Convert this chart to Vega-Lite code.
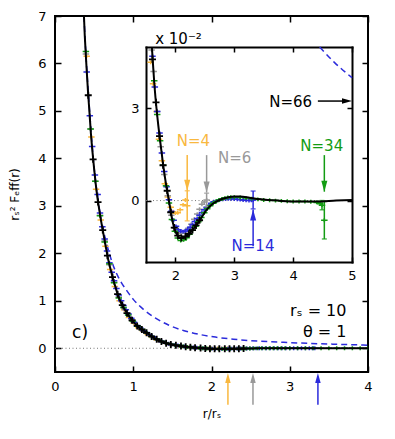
{
"$schema": "https://vega.github.io/schema/vega-lite/v6.json",
"width": 313, "height": 356,
"autosize": "none",
"padding": {"left": 55, "top": 16, "right": 27, "bottom": 67},
"config": {"font": "DejaVu Sans", "view": {"stroke": "black", "strokeWidth": 2},
  "axis": {"grid": false, "labelFont": "DejaVu Sans", "labelFontSize": 13, "labelColor": "black", "tickColor": "black", "tickWidth": 1.5, "labelFlush": false, "titleFont": "DejaVu Sans", "titleColor": "black", "titleFontWeight": "normal", "domain": false}},
"datasets": {
"curve": [
{"r":0.37,"y":7.0},{"r":0.38,"y":6.6},{"r":0.39,"y":6.3},{"r":0.40,"y":6.0},{"r":0.42,"y":5.45},{"r":0.44,"y":4.98},{"r":0.46,"y":4.5},{"r":0.48,"y":4.12},{"r":0.50,"y":3.78},{"r":0.52,"y":3.47},{"r":0.54,"y":3.2},{"r":0.56,"y":2.98},{"r":0.58,"y":2.77},{"r":0.60,"y":2.58},{"r":0.62,"y":2.40},{"r":0.64,"y":2.22},{"r":0.66,"y":2.04},{"r":0.68,"y":1.87},{"r":0.70,"y":1.73},{"r":0.72,"y":1.60},{"r":0.74,"y":1.47},{"r":0.76,"y":1.36},{"r":0.78,"y":1.25},{"r":0.80,"y":1.14},{"r":0.82,"y":1.05},{"r":0.84,"y":0.97},{"r":0.86,"y":0.91},{"r":0.88,"y":0.85},{"r":0.90,"y":0.79},{"r":0.95,"y":0.67},{"r":1.00,"y":0.56},{"r":1.05,"y":0.47},{"r":1.10,"y":0.405},{"r":1.15,"y":0.35},{"r":1.20,"y":0.29},{"r":1.25,"y":0.235},{"r":1.30,"y":0.19},{"r":1.35,"y":0.15},{"r":1.40,"y":0.118},{"r":1.45,"y":0.092},{"r":1.50,"y":0.074},{"r":1.55,"y":0.061},{"r":1.60,"y":0.050},{"r":1.65,"y":0.036},{"r":1.70,"y":0.026},{"r":1.75,"y":0.018},{"r":1.80,"y":0.0105},{"r":1.85,"y":0.0042},{"r":1.88,"y":0.0010},{"r":1.92,"y":-0.0035},{"r":1.96,"y":-0.0075},{"r":2.00,"y":-0.0100},{"r":2.04,"y":-0.0115},{"r":2.08,"y":-0.0122},{"r":2.12,"y":-0.0121},{"r":2.16,"y":-0.0118},{"r":2.22,"y":-0.0110},{"r":2.28,"y":-0.0098},{"r":2.36,"y":-0.0079},{"r":2.44,"y":-0.0056},{"r":2.53,"y":-0.0030},{"r":2.62,"y":-0.0013},{"r":2.70,"y":-0.0003},{"r":2.80,"y":0.0006},{"r":2.90,"y":0.0011},{"r":3.00,"y":0.0013},{"r":3.10,"y":0.0013},{"r":3.26,"y":0.0009},{"r":3.40,"y":0.0005},{"r":3.60,"y":0.0002},{"r":3.80,"y":-0.0001},{"r":4.05,"y":-0.0003},{"r":4.39,"y":-0.0003},{"r":4.73,"y":0.0},{"r":5.00,"y":0.0002}
],
"dashed": [
{"r":0.37,"y":7.0},{"r":0.40,"y":6.05},{"r":0.44,"y":5.05},{"r":0.485,"y":4.07},{"r":0.55,"y":3.12},{"r":0.60,"y":2.63},{"r":0.64,"y":2.33},{"r":0.68,"y":2.08},{"r":0.745,"y":1.74},{"r":0.80,"y":1.53},{"r":0.85,"y":1.38},{"r":0.915,"y":1.22},{"r":1.00,"y":1.03},{"r":1.13,"y":0.82},{"r":1.28,"y":0.64},{"r":1.45,"y":0.49},{"r":1.65,"y":0.37},{"r":1.85,"y":0.29},{"r":2.05,"y":0.235},{"r":2.28,"y":0.19},{"r":2.6,"y":0.15},{"r":2.92,"y":0.125},{"r":3.25,"y":0.103},{"r":3.55,"y":0.087},{"r":3.94,"y":0.068},{"r":4.20,"y":0.058},{"r":4.45,"y":0.050},{"r":4.70,"y":0.045},{"r":5.00,"y":0.040}
],
"pts": [
{"N":"N=4","r":0.405,"y":6.15},{"N":"N=4","r":0.465,"y":4.45},{"N":"N=4","r":0.525,"y":3.35},{"N":"N=4","r":0.585,"y":2.70},{"N":"N=4","r":0.645,"y":2.15},{"N":"N=4","r":0.705,"y":1.66},{"N":"N=4","r":0.765,"y":1.30},{"N":"N=4","r":0.825,"y":1.00},{"N":"N=4","r":0.885,"y":0.81},{"N":"N=4","r":0.945,"y":0.65},{"N":"N=4","r":1.005,"y":0.53},{"N":"N=4","r":1.065,"y":0.43},{"N":"N=4","r":1.125,"y":0.36},{"N":"N=4","r":1.185,"y":0.29},{"N":"N=4","r":1.245,"y":0.225},{"N":"N=4","r":1.305,"y":0.175},{"N":"N=4","r":1.365,"y":0.135},{"N":"N=4","r":1.425,"y":0.098},{"N":"N=4","r":1.485,"y":0.074},{"N":"N=4","r":1.545,"y":0.056},{"N":"N=4","r":1.58,"y":0.045},{"N":"N=4","r":1.62,"y":0.038},{"N":"N=4","r":1.68,"y":0.029},{"N":"N=4","r":1.72,"y":0.020},{"N":"N=4","r":1.77,"y":0.013},{"N":"N=4","r":1.82,"y":0.0055},{"N":"N=4","r":1.87,"y":0.0012},{"N":"N=4","r":1.92,"y":-0.0022},{"N":"N=4","r":1.96,"y":-0.0036},{"N":"N=4","r":2.00,"y":-0.0041},{"N":"N=4","r":2.04,"y":-0.0040},{"N":"N=4","r":2.08,"y":-0.0030},{"N":"N=4","r":2.13,"y":-0.0014},{"N":"N=4","r":2.17,"y":0.0002},{"N":"N=4","r":2.20,"y":-0.0017,"err":0.0049},
{"N":"N=6","r":0.395,"y":6.2},{"N":"N=6","r":0.455,"y":4.62},{"N":"N=6","r":0.515,"y":3.52},{"N":"N=6","r":0.575,"y":2.80},{"N":"N=6","r":0.635,"y":2.26},{"N":"N=6","r":0.695,"y":1.76},{"N":"N=6","r":0.755,"y":1.39},{"N":"N=6","r":0.815,"y":1.08},{"N":"N=6","r":0.875,"y":0.86},{"N":"N=6","r":0.935,"y":0.70},{"N":"N=6","r":0.995,"y":0.57},{"N":"N=6","r":1.055,"y":0.465},{"N":"N=6","r":1.115,"y":0.385},{"N":"N=6","r":1.175,"y":0.32},{"N":"N=6","r":1.235,"y":0.25},{"N":"N=6","r":1.295,"y":0.195},{"N":"N=6","r":1.355,"y":0.152},{"N":"N=6","r":1.415,"y":0.11},{"N":"N=6","r":1.475,"y":0.083},{"N":"N=6","r":1.535,"y":0.064},{"N":"N=6","r":1.595,"y":0.049},{"N":"N=6","r":1.63,"y":0.042},{"N":"N=6","r":1.69,"y":0.029},{"N":"N=6","r":1.75,"y":0.0175},{"N":"N=6","r":1.81,"y":0.0085},{"N":"N=6","r":1.87,"y":0.0016},{"N":"N=6","r":1.93,"y":-0.0048},{"N":"N=6","r":1.99,"y":-0.0090},{"N":"N=6","r":2.05,"y":-0.0104},{"N":"N=6","r":2.10,"y":-0.0106},{"N":"N=6","r":2.16,"y":-0.0101},{"N":"N=6","r":2.22,"y":-0.0090},{"N":"N=6","r":2.27,"y":-0.0077},{"N":"N=6","r":2.32,"y":-0.0061},{"N":"N=6","r":2.37,"y":-0.0044},{"N":"N=6","r":2.41,"y":-0.0028},{"N":"N=6","r":2.45,"y":-0.0012},{"N":"N=6","r":2.49,"y":-0.0005},{"N":"N=6","r":2.53,"y":0.0002,"err":0.0022},
{"N":"N=14","r":0.405,"y":5.82},{"N":"N=14","r":0.445,"y":4.90},{"N":"N=14","r":0.475,"y":4.25},{"N":"N=14","r":0.51,"y":3.65},{"N":"N=14","r":0.545,"y":3.24},{"N":"N=14","r":0.575,"y":2.85},{"N":"N=14","r":0.605,"y":2.56},{"N":"N=14","r":0.635,"y":2.30},{"N":"N=14","r":0.665,"y":2.05},{"N":"N=14","r":0.695,"y":1.80},{"N":"N=14","r":0.725,"y":1.60},{"N":"N=14","r":0.755,"y":1.42},{"N":"N=14","r":0.785,"y":1.26},{"N":"N=14","r":0.815,"y":1.12},{"N":"N=14","r":0.845,"y":1.00},{"N":"N=14","r":0.875,"y":0.90},{"N":"N=14","r":0.905,"y":0.81},{"N":"N=14","r":0.94,"y":0.72},{"N":"N=14","r":0.975,"y":0.63},{"N":"N=14","r":1.01,"y":0.55},{"N":"N=14","r":1.05,"y":0.48},{"N":"N=14","r":1.09,"y":0.425},{"N":"N=14","r":1.13,"y":0.37},{"N":"N=14","r":1.17,"y":0.33},{"N":"N=14","r":1.21,"y":0.28},{"N":"N=14","r":1.25,"y":0.24},{"N":"N=14","r":1.29,"y":0.20},{"N":"N=14","r":1.33,"y":0.165},{"N":"N=14","r":1.37,"y":0.14},{"N":"N=14","r":1.41,"y":0.115},{"N":"N=14","r":1.45,"y":0.094},{"N":"N=14","r":1.49,"y":0.077},{"N":"N=14","r":1.53,"y":0.066},{"N":"N=14","r":1.57,"y":0.057},{"N":"N=14","r":1.61,"y":0.047},{"N":"N=14","r":1.65,"y":0.037},{"N":"N=14","r":1.69,"y":0.029},{"N":"N=14","r":1.73,"y":0.022},{"N":"N=14","r":1.77,"y":0.0155},{"N":"N=14","r":1.81,"y":0.0095},{"N":"N=14","r":1.85,"y":0.0045},{"N":"N=14","r":1.89,"y":0.0003},{"N":"N=14","r":1.93,"y":-0.0035},{"N":"N=14","r":1.97,"y":-0.0064},{"N":"N=14","r":2.01,"y":-0.0084},{"N":"N=14","r":2.05,"y":-0.0095},{"N":"N=14","r":2.09,"y":-0.0100},{"N":"N=14","r":2.13,"y":-0.0101},{"N":"N=14","r":2.17,"y":-0.0099},{"N":"N=14","r":2.21,"y":-0.0094},{"N":"N=14","r":2.25,"y":-0.0087},{"N":"N=14","r":2.29,"y":-0.0078},{"N":"N=14","r":2.33,"y":-0.0068},{"N":"N=14","r":2.37,"y":-0.0058},{"N":"N=14","r":2.41,"y":-0.0048},{"N":"N=14","r":2.45,"y":-0.0039},{"N":"N=14","r":2.49,"y":-0.0030},{"N":"N=14","r":2.53,"y":-0.0022},{"N":"N=14","r":2.57,"y":-0.0015},{"N":"N=14","r":2.61,"y":-0.0009},{"N":"N=14","r":2.65,"y":-0.0004},{"N":"N=14","r":2.70,"y":-0.0001},{"N":"N=14","r":2.75,"y":0.0002},{"N":"N=14","r":2.80,"y":0.0004},{"N":"N=14","r":2.85,"y":0.0005},{"N":"N=14","r":2.90,"y":0.0006},{"N":"N=14","r":2.95,"y":0.0006},{"N":"N=14","r":3.00,"y":0.0005},{"N":"N=14","r":3.05,"y":0.0004},{"N":"N=14","r":3.10,"y":0.0003},{"N":"N=14","r":3.15,"y":0.0002},{"N":"N=14","r":3.20,"y":0.0001},{"N":"N=14","r":3.25,"y":0.0},{"N":"N=14","r":3.29,"y":0.0001},{"N":"N=14","r":3.32,"y":0.0002,"err":0.0029},
{"N":"N=34","r":0.395,"y":6.25},{"N":"N=34","r":0.455,"y":4.62},{"N":"N=34","r":0.515,"y":3.52},{"N":"N=34","r":0.575,"y":2.79},{"N":"N=34","r":0.635,"y":2.24},{"N":"N=34","r":0.695,"y":1.78},{"N":"N=34","r":0.755,"y":1.38},{"N":"N=34","r":0.815,"y":1.06},{"N":"N=34","r":0.875,"y":0.86},{"N":"N=34","r":0.935,"y":0.70},{"N":"N=34","r":0.995,"y":0.57},{"N":"N=34","r":1.055,"y":0.465},{"N":"N=34","r":1.115,"y":0.395},{"N":"N=34","r":1.175,"y":0.325},{"N":"N=34","r":1.235,"y":0.25},{"N":"N=34","r":1.295,"y":0.195},{"N":"N=34","r":1.355,"y":0.15},{"N":"N=34","r":1.415,"y":0.11},{"N":"N=34","r":1.475,"y":0.083},{"N":"N=34","r":1.535,"y":0.064},{"N":"N=34","r":1.595,"y":0.051},{"N":"N=34","r":1.64,"y":0.039},{"N":"N=34","r":1.69,"y":0.028},{"N":"N=34","r":1.74,"y":0.0195},{"N":"N=34","r":1.79,"y":0.0115},{"N":"N=34","r":1.84,"y":0.0048},{"N":"N=34","r":1.89,"y":-0.0008},{"N":"N=34","r":1.94,"y":-0.0062},{"N":"N=34","r":1.99,"y":-0.0100},{"N":"N=34","r":2.04,"y":-0.0122},{"N":"N=34","r":2.09,"y":-0.0130},{"N":"N=34","r":2.14,"y":-0.0128},{"N":"N=34","r":2.19,"y":-0.0121},{"N":"N=34","r":2.24,"y":-0.0110},{"N":"N=34","r":2.29,"y":-0.0097},{"N":"N=34","r":2.34,"y":-0.0084},{"N":"N=34","r":2.39,"y":-0.0069},{"N":"N=34","r":2.44,"y":-0.0055},{"N":"N=34","r":2.49,"y":-0.0040},{"N":"N=34","r":2.54,"y":-0.0027},{"N":"N=34","r":2.59,"y":-0.0017},{"N":"N=34","r":2.64,"y":-0.0009},{"N":"N=34","r":2.69,"y":-0.0003},{"N":"N=34","r":2.74,"y":0.0002},{"N":"N=34","r":2.79,"y":0.0005},{"N":"N=34","r":2.84,"y":0.0008},{"N":"N=34","r":2.89,"y":0.0010},{"N":"N=34","r":2.94,"y":0.0011},{"N":"N=34","r":3.0,"y":0.0011},{"N":"N=34","r":3.1,"y":0.0010},{"N":"N=34","r":3.2,"y":0.0008},{"N":"N=34","r":3.3,"y":0.0006},{"N":"N=34","r":3.4,"y":0.0004},{"N":"N=34","r":3.5,"y":0.0002},{"N":"N=34","r":3.6,"y":0.0001},{"N":"N=34","r":3.7,"y":0.0},{"N":"N=34","r":3.8,"y":-0.0001},{"N":"N=34","r":3.9,"y":-0.0002},{"N":"N=34","r":4.0,"y":-0.0003},{"N":"N=34","r":4.1,"y":-0.0003},{"N":"N=34","r":4.2,"y":-0.0003},{"N":"N=34","r":4.3,"y":-0.0004},{"N":"N=34","r":4.4,"y":-0.0006},{"N":"N=34","r":4.46,"y":-0.0010},{"N":"N=34","r":4.49,"y":-0.0015,"err":0.0015},{"N":"N=34","r":4.53,"y":-0.0064,"err":0.0061},
{"N":"N=66","r":0.425,"y":5.33},{"N":"N=66","r":0.487,"y":3.98},{"N":"N=66","r":0.55,"y":3.08},{"N":"N=66","r":0.61,"y":2.49},{"N":"N=66","r":0.67,"y":1.95},{"N":"N=66","r":0.735,"y":1.50},{"N":"N=66","r":0.80,"y":1.14},{"N":"N=66","r":0.86,"y":0.91},{"N":"N=66","r":0.92,"y":0.74},{"N":"N=66","r":0.985,"y":0.59},{"N":"N=66","r":1.05,"y":0.47},{"N":"N=66","r":1.11,"y":0.395},{"N":"N=66","r":1.17,"y":0.325},{"N":"N=66","r":1.235,"y":0.25},{"N":"N=66","r":1.30,"y":0.19},{"N":"N=66","r":1.36,"y":0.143},{"N":"N=66","r":1.42,"y":0.107},{"N":"N=66","r":1.48,"y":0.081},{"N":"N=66","r":1.545,"y":0.062},{"N":"N=66","r":1.61,"y":0.046},{"N":"N=66","r":1.67,"y":0.032},{"N":"N=66","r":1.73,"y":0.021},{"N":"N=66","r":1.79,"y":0.0115},{"N":"N=66","r":1.86,"y":0.0032},{"N":"N=66","r":1.92,"y":-0.0038},{"N":"N=66","r":1.98,"y":-0.0088},{"N":"N=66","r":2.04,"y":-0.0114},{"N":"N=66","r":2.10,"y":-0.0122},{"N":"N=66","r":2.17,"y":-0.0117},{"N":"N=66","r":2.23,"y":-0.0108},{"N":"N=66","r":2.29,"y":-0.0096},{"N":"N=66","r":2.35,"y":-0.0081},{"N":"N=66","r":2.41,"y":-0.0064}
],
"axisArrows": [{"N":"N=4","r":2.21},{"N":"N=6","r":2.53},{"N":"N=14","r":3.36}],
"insetArrows": [{"N":"N=4","r":2.20,"tail":0.0148,"tip":0.0032,"dir":"down"},{"N":"N=6","r":2.53,"tail":0.0148,"tip":0.0026,"dir":"down"},{"N":"N=14","r":3.32,"tail":-0.0149,"tip":-0.0029,"dir":"up"},{"N":"N=34","r":4.53,"tail":0.0148,"tip":0.0029,"dir":"down"}],
"one": [{"k":1}]
},
"layer": [
{
 "layer": [
  {"data": {"name": "dashed"}, "mark": {"type": "line", "clip": true, "color": "#2b2bdb", "strokeDash": [6, 4], "strokeWidth": 1.5, "interpolate": "monotone"},
   "encoding": {
    "x": {"field": "r", "type": "quantitative", "scale": {"domain": [0, 4], "nice": false, "zero": false},
          "axis": {"orient": "bottom", "values": [0,1,2,3,4], "format": "d", "title": "r/rₛ", "titleFontSize": 12, "titlePadding": 15, "tickSize": -6, "labelPadding": 14}},
    "y": {"field": "y", "type": "quantitative", "scale": {"domain": [-0.5, 7], "nice": false, "zero": false},
          "axis": {"orient": "left", "values": [0,1,2,3,4,5,6,7], "format": "d", "title": "rₛ² Fₑff(r)", "titleFontSize": 12, "titlePadding": 16, "tickSize": -6, "labelPadding": 15}}}},
  {"data": {"name": "one"}, "mark": {"type": "rule", "strokeDash": [1, 2.5], "color": "#777777", "strokeWidth": 1},
   "encoding": {"x": {"datum": 0, "type": "quantitative"}, "x2": {"datum": 4}, "y": {"datum": 0, "type": "quantitative"}}},
  {"data": {"name": "pts"}, "transform": [{"filter": "datum.N != 'N=66'"}],
   "mark": {"type": "point", "clip": true, "shape": "M-1,0L1,0M0,-0.6L0,0.6", "filled": false, "size": 42, "strokeWidth": 1.5, "opacity": 1},
   "encoding": {"x": {"field": "r", "type": "quantitative"}, "y": {"field": "y", "type": "quantitative"},
     "color": {"field": "N", "type": "nominal", "scale": {"domain": ["N=4","N=6","N=14","N=34","N=66"], "range": ["#f9b83f","#999999","#2b2bdb","#139c13","#000000"]}, "legend": null}}},
  {"data": {"name": "axisArrows"}, "mark": {"type": "rule", "strokeWidth": 1.5},
   "encoding": {"x": {"field": "r", "type": "quantitative"}, "y": {"datum": -1.19, "type": "quantitative"}, "y2": {"datum": -0.6}, "color": {"field": "N", "type": "nominal", "legend": null}}},
  {"data": {"name": "axisArrows"}, "mark": {"type": "point", "shape": "M0,0L-0.55,2L0.55,2Z", "filled": true, "size": 100, "opacity": 1},
   "encoding": {"x": {"field": "r", "type": "quantitative"}, "y": {"datum": -0.52, "type": "quantitative"}, "color": {"field": "N", "type": "nominal", "legend": null}}},
  {"data": {"name": "one"}, "mark": {"type": "text", "text": "c)", "fontSize": 17, "align": "center", "baseline": "middle", "color": "black"},
   "encoding": {"x": {"datum": 0.32, "type": "quantitative"}, "y": {"datum": 0.32, "type": "quantitative"}}},
  {"data": {"name": "one"}, "mark": {"type": "text", "text": "rₛ = 10", "fontSize": 16, "align": "right", "baseline": "middle", "color": "black"},
   "encoding": {"x": {"datum": 3.725, "type": "quantitative"}, "y": {"datum": 0.79, "type": "quantitative"}}},
  {"data": {"name": "one"}, "mark": {"type": "text", "text": "θ = 1", "fontSize": 16, "align": "right", "baseline": "middle", "color": "black"},
   "encoding": {"x": {"datum": 3.725, "type": "quantitative"}, "y": {"datum": 0.35, "type": "quantitative"}}}
 ]
},
{
 "layer": [
  {"data": {"name": "curve"}, "mark": {"type": "line", "clip": true, "color": "black", "strokeWidth": 2, "interpolate": "monotone"},
   "encoding": {
    "x": {"field": "r", "type": "quantitative", "scale": {"domain": [0, 4], "nice": false, "zero": false},
          "axis": {"orient": "top", "values": [0,1,2,3,4], "title": null, "labels": false, "tickSize": -6}},
    "y": {"field": "y", "type": "quantitative", "scale": {"domain": [-0.5, 7], "nice": false, "zero": false},
          "axis": {"orient": "right", "values": [0,1,2,3,4,5,6,7], "title": null, "labels": false, "tickSize": -6}}}},
  {"data": {"name": "pts"}, "transform": [{"filter": "datum.N == 'N=66'"}],
   "mark": {"type": "point", "clip": true, "shape": "M-1,0L1,0M0,-1L0,1", "filled": false, "size": 49, "strokeWidth": 1.8, "color": "black", "opacity": 1},
   "encoding": {"x": {"field": "r", "type": "quantitative"}, "y": {"field": "y", "type": "quantitative"}}}
 ]
},
{
 "layer": [
  {"data": {"name": "dashed"}, "transform": [{"filter": "datum.y <= 0.0501"}], "mark": {"type": "line", "color": "#2b2bdb", "strokeDash": [6, 4], "strokeWidth": 1.5, "interpolate": "monotone"},
   "encoding": {
    "x": {"field": "r", "type": "quantitative", "scale": {"domain": [1.5, 5], "range": [91, 297], "nice": false, "zero": false},
          "axis": {"orient": "bottom", "offset": -110, "values": [2,3,4,5], "format": "d", "title": null, "tickSize": -5, "labelPadding": 12, "domain": true, "domainColor": "black", "domainWidth": 2, "domainCap": "square"}},
    "y": {"field": "y", "type": "quantitative", "scale": {"domain": [-0.02, 0.05], "range": [246, 31], "nice": false, "zero": false},
          "axis": {"orient": "left", "offset": -91, "values": [0, 0.03], "labelExpr": "format(round(datum.value*100),'d')", "title": null, "tickSize": -5, "labelPadding": 12, "domain": true, "domainColor": "black", "domainWidth": 2, "domainCap": "square"}}}},
  {"data": {"name": "one"}, "mark": {"type": "rule", "strokeDash": [1, 2.5], "color": "#777777", "strokeWidth": 1},
   "encoding": {"x": {"datum": 1.5, "type": "quantitative"}, "x2": {"datum": 5}, "y": {"datum": 0, "type": "quantitative"}}},
  {"data": {"name": "pts"}, "transform": [{"filter": "datum.N != 'N=66' && datum.r >= 1.5 && datum.y <= 0.0505 && datum.y >= -0.0205"}],
   "mark": {"type": "point", "shape": "M-1,0L1,0M0,-0.6L0,0.6", "filled": false, "size": 42, "strokeWidth": 1.5, "opacity": 1},
   "encoding": {"x": {"field": "r", "type": "quantitative"}, "y": {"field": "y", "type": "quantitative"}, "color": {"field": "N", "type": "nominal", "legend": null}}},
  {"data": {"name": "pts"}, "transform": [{"filter": "isValid(datum.err)"}],
   "mark": {"type": "errorbar", "ticks": true, "thickness": 1.5},
   "encoding": {"x": {"field": "r", "type": "quantitative"}, "y": {"field": "y", "type": "quantitative"}, "yError": {"field": "err"}, "color": {"field": "N", "type": "nominal", "legend": null}}},
  {"data": {"name": "insetArrows"}, "mark": {"type": "rule", "strokeWidth": 1.5},
   "encoding": {"x": {"field": "r", "type": "quantitative"}, "y": {"field": "tail", "type": "quantitative"}, "y2": {"field": "tip"}, "color": {"field": "N", "type": "nominal", "legend": null}}},
  {"data": {"name": "insetArrows"}, "mark": {"type": "point", "filled": true, "size": 121, "opacity": 1},
   "encoding": {"x": {"field": "r", "type": "quantitative"}, "y": {"field": "tip", "type": "quantitative"}, "color": {"field": "N", "type": "nominal", "legend": null},
     "shape": {"field": "dir", "type": "nominal", "scale": {"domain": ["down", "up"], "range": ["M0,0L-0.55,-2L0.55,-2Z", "M0,0L-0.55,2L0.55,2Z"]}, "legend": null}}},
  {"data": {"name": "one"}, "mark": {"type": "rule", "strokeWidth": 1.5, "color": "black"},
   "encoding": {"x": {"datum": 4.42, "type": "quantitative"}, "x2": {"datum": 4.9}, "y": {"datum": 0.0324, "type": "quantitative"}}},
  {"data": {"name": "one"}, "mark": {"type": "point", "shape": "M0,0L-2,-0.55L-2,0.55Z", "filled": true, "size": 100, "color": "black", "opacity": 1},
   "encoding": {"x": {"datum": 5.0, "type": "quantitative"}, "y": {"datum": 0.0324, "type": "quantitative"}}},
  {"data": {"name": "one"}, "mark": {"type": "text", "text": "N=4", "fontSize": 15, "align": "center", "baseline": "middle", "color": "#f9b83f"},
   "encoding": {"x": {"datum": 2.306, "type": "quantitative"}, "y": {"datum": 0.0195, "type": "quantitative"}}},
  {"data": {"name": "one"}, "mark": {"type": "text", "text": "N=6", "fontSize": 15, "align": "center", "baseline": "middle", "color": "#999999"},
   "encoding": {"x": {"datum": 3.006, "type": "quantitative"}, "y": {"datum": 0.0140, "type": "quantitative"}}},
  {"data": {"name": "one"}, "mark": {"type": "text", "text": "N=14", "fontSize": 15, "align": "center", "baseline": "middle", "color": "#2b2bdb"},
   "encoding": {"x": {"datum": 3.318, "type": "quantitative"}, "y": {"datum": -0.0147, "type": "quantitative"}}},
  {"data": {"name": "one"}, "mark": {"type": "text", "text": "N=34", "fontSize": 15, "align": "center", "baseline": "middle", "color": "#139c13"},
   "encoding": {"x": {"datum": 4.486, "type": "quantitative"}, "y": {"datum": 0.0179, "type": "quantitative"}}},
  {"data": {"name": "one"}, "mark": {"type": "text", "text": "N=66", "fontSize": 15, "align": "center", "baseline": "middle", "color": "black"},
   "encoding": {"x": {"datum": 3.957, "type": "quantitative"}, "y": {"datum": 0.0321, "type": "quantitative"}}},
  {"data": {"name": "one"}, "mark": {"type": "text", "text": "x 10⁻²", "fontSize": 15, "align": "left", "baseline": "middle", "color": "black"},
   "encoding": {"x": {"datum": 1.656, "type": "quantitative"}, "y": {"datum": 0.0525, "type": "quantitative"}}}
 ]
},
{
 "layer": [
  {"data": {"name": "curve"}, "transform": [{"filter": "datum.r >= 1.5 && datum.y <= 0.0501"}], "mark": {"type": "line", "color": "black", "strokeWidth": 2, "interpolate": "monotone"},
   "encoding": {
    "x": {"field": "r", "type": "quantitative", "scale": {"domain": [1.5, 5], "range": [91, 297], "nice": false, "zero": false},
          "axis": {"orient": "top", "offset": -31, "values": [2,3,4,5], "title": null, "labels": false, "tickSize": -5, "domain": true, "domainColor": "black", "domainWidth": 2, "domainCap": "square"}},
    "y": {"field": "y", "type": "quantitative", "scale": {"domain": [-0.02, 0.05], "range": [246, 31], "nice": false, "zero": false},
          "axis": {"orient": "right", "offset": -16, "values": [0, 0.03], "title": null, "labels": false, "tickSize": -5, "domain": true, "domainColor": "black", "domainWidth": 2, "domainCap": "square"}}}},
  {"data": {"name": "pts"}, "transform": [{"filter": "datum.N == 'N=66' && datum.r >= 1.5 && datum.y <= 0.0505"}],
   "mark": {"type": "point", "shape": "M-1,0L1,0M0,-1L0,1", "filled": false, "size": 49, "strokeWidth": 1.8, "color": "black", "opacity": 1},
   "encoding": {"x": {"field": "r", "type": "quantitative"}, "y": {"field": "y", "type": "quantitative"}}}
 ]
}
],
"resolve": {"scale": {"x": "independent", "y": "independent"}, "axis": {"x": "independent", "y": "independent"}}
}
